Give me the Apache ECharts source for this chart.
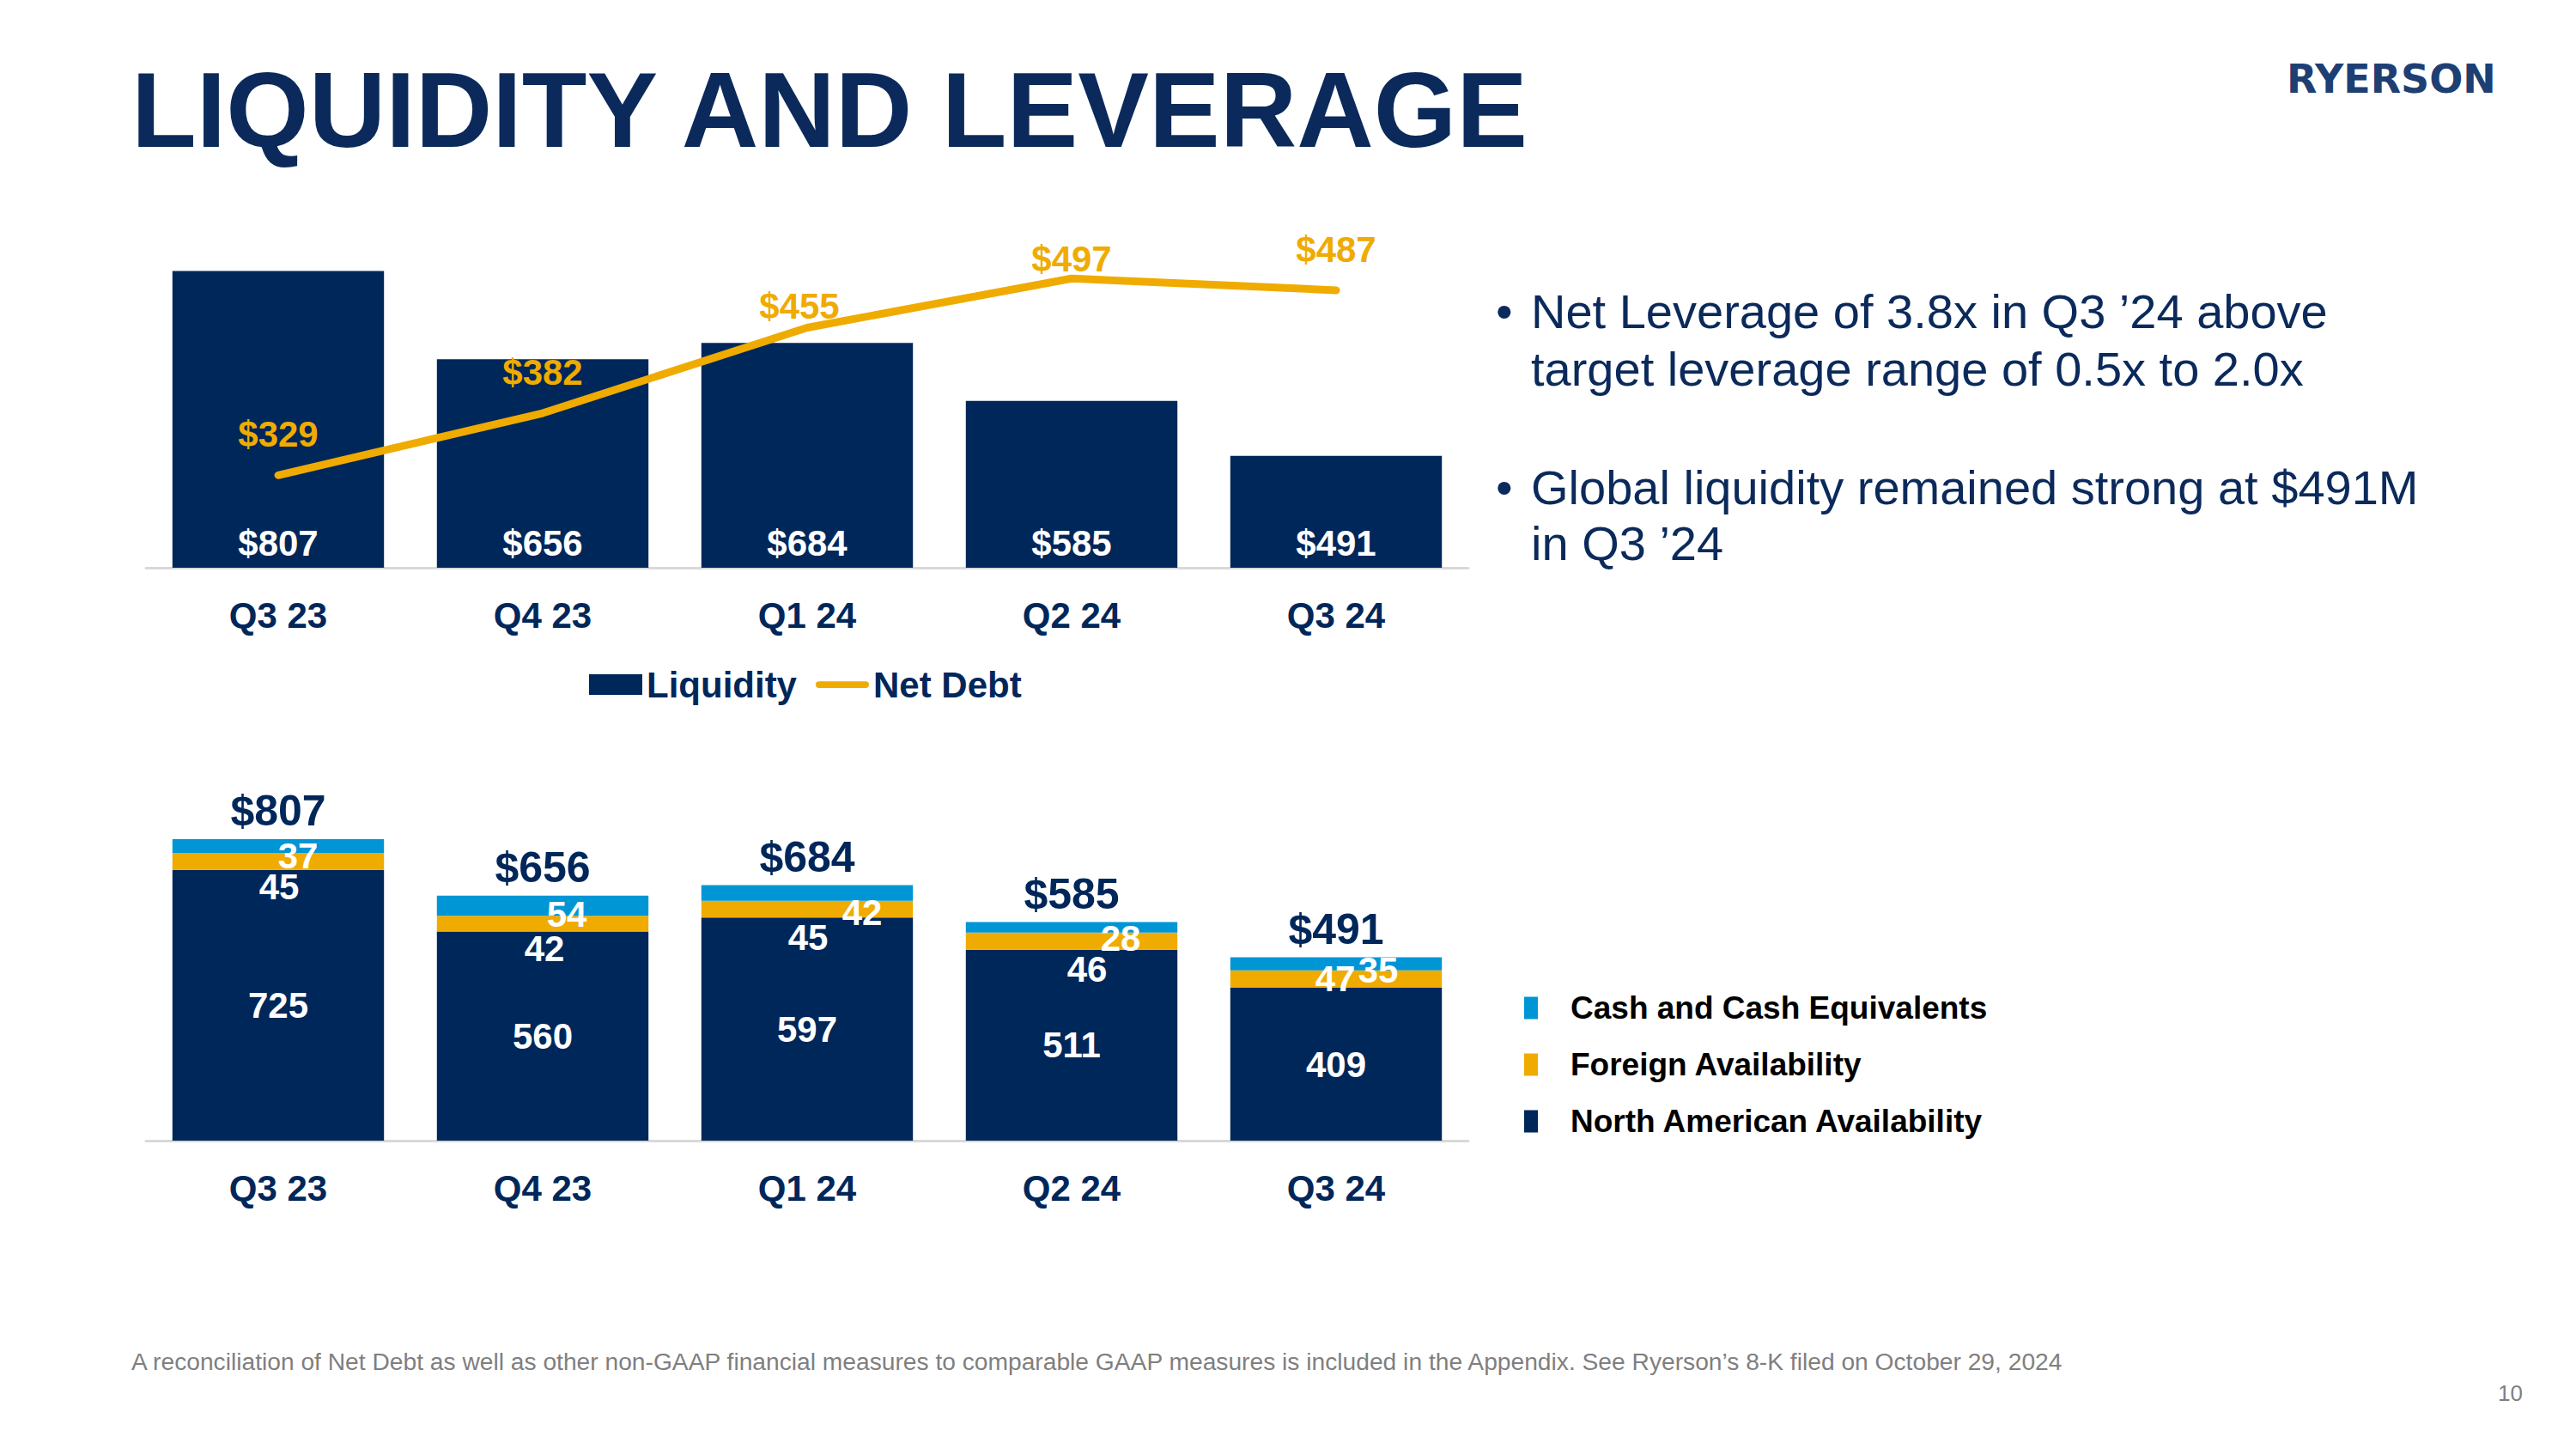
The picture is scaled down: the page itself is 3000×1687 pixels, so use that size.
<!DOCTYPE html>
<html>
<head>
<meta charset="utf-8">
<script src="https://cdn.jsdelivr.net/npm/echarts@6/dist/echarts.min.js"></script>
<style>
html,body{margin:0;padding:0;background:#fff;}
#chart{width:3000px;height:1687px;}
</style>
</head>
<body>
<div id="chart"></div>
<script>
// ---- data ----
const categories = ['Q3 23', 'Q4 23', 'Q1 24', 'Q2 24', 'Q3 24'];
const liquidity = [807, 656, 684, 585, 491];
const netDebt = [329, 382, 455, 497, 487];
const northAmerican = [725, 560, 597, 511, 409];
const foreignAvail = [45, 42, 45, 46, 47];
const cashEquiv = [37, 54, 42, 28, 35];
const legendTop = ['Liquidity', 'Net Debt'];
const legendBottom = ['Cash and Cash Equivalents', 'Foreign Availability', 'North American Availability'];

// ---- layout (label nudges as drawn in the source slide) ----
const netDebtLabelNudge = [[0, 0], [0, 0], [-9, 22], [0, 25], [0, 0]];
const foreignLabelNudge = [[1, 30], [2, 29], [1, 33], [18, 33], [-1, 0]];
const cashLabelNudge = [[23, 11], [28, 10], [64, 23], [57, 13], [49, 7]];

const NAVY = '#00275A';
const ORANGE = '#F0AB00';
const BLUE = '#0096D6';
const TITLE = '#0B2A5B';
const FONT = '"Liberation Sans", Arial, sans-serif';

const chart = echarts.init(document.getElementById('chart'), null, {renderer: 'svg'});

const withNudge = (arr, nudges) => arr.map((v, i) => ({value: v, label: {offset: nudges[i]}}));

const axisX = (gridIndex) => ({
  type: 'category', gridIndex, data: categories,
  axisTick: {show: false},
  axisLine: {lineStyle: {color: '#D9D9D9', width: 3}},
  axisLabel: {color: NAVY, fontWeight: 'bold', fontSize: 42, fontFamily: FONT, margin: 34}
});

const option = {
  backgroundColor: '#fff',
  animation: false,
  textStyle: {fontFamily: FONT},
  grid: [
    {left: 170, width: 1540, top: 252, height: 409},
    {left: 170, width: 1540, top: 936.5, height: 391.5}
  ],
  xAxis: [axisX(0), axisX(1)],
  yAxis: [
    {type: 'value', gridIndex: 0, min: 300, max: 900, show: false, splitLine: {show: false}},
    {type: 'value', gridIndex: 0, min: 250, max: 550, show: false, splitLine: {show: false}},
    {type: 'value', gridIndex: 1, min: 0, max: 900, show: false, splitLine: {show: false}}
  ],
  legend: [
    {
      data: [
        {name: legendTop[0], icon: 'rect'},
        {name: legendTop[1], icon: 'path://M4,0 H60 A4,4 0 0 1 60,8 H4 A4,4 0 0 1 4,0 Z'}
      ],
      left: 681, top: 771, itemWidth: 62, itemHeight: 24, itemGap: 22, symbolKeepAspect: true,
      textStyle: {color: NAVY, fontWeight: 'bold', fontSize: 42, fontFamily: FONT}
    },
    {
      data: legendBottom.map(n => ({name: n, icon: 'rect'})),
      orient: 'vertical', left: 1770, top: 1150, itemWidth: 16, itemHeight: 26, itemGap: 29,
      textStyle: {color: '#000', fontWeight: 'bold', fontSize: 37, fontFamily: FONT, padding: [0, 0, 0, 33]}
    }
  ],
  series: [
    {
      name: 'Liquidity', type: 'bar', xAxisIndex: 0, yAxisIndex: 0, data: liquidity,
      barCategoryGap: '20%', itemStyle: {color: NAVY},
      label: {show: true, position: 'insideBottom', distance: 8, color: '#fff', fontWeight: 'bold', fontSize: 42,
        formatter: p => '$' + p.value}
    },
    {
      name: 'Net Debt', type: 'line', xAxisIndex: 0, yAxisIndex: 1, data: netDebt,
      symbol: 'none', lineStyle: {color: ORANGE, width: 9, cap: 'round', join: 'round'}, itemStyle: {color: ORANGE},
      z: 5
    },
    {
      name: 'Net Debt labels', type: 'scatter', xAxisIndex: 0, yAxisIndex: 1, data: withNudge(netDebt, netDebtLabelNudge),
      symbolSize: 1, itemStyle: {color: 'rgba(0,0,0,0)', opacity: 1}, silent: true,
      label: {show: true, position: 'top', distance: 26, color: ORANGE, fontWeight: 'bold', fontSize: 42,
        formatter: p => '$' + p.value}, z: 6
    },
    {
      name: 'North American Availability', type: 'bar', stack: 'liq', xAxisIndex: 1, yAxisIndex: 2, data: northAmerican,
      barCategoryGap: '20%', itemStyle: {color: NAVY},
      label: {show: true, position: 'inside', color: '#fff', fontWeight: 'bold', fontSize: 42}
    },
    {
      name: 'Foreign Availability', type: 'bar', stack: 'liq', xAxisIndex: 1, yAxisIndex: 2, data: withNudge(foreignAvail, foreignLabelNudge),
      itemStyle: {color: ORANGE},
      label: {show: true, position: 'inside', color: '#fff', fontWeight: 'bold', fontSize: 42}
    },
    {
      name: 'Cash and Cash Equivalents', type: 'bar', stack: 'liq', xAxisIndex: 1, yAxisIndex: 2, data: withNudge(cashEquiv, cashLabelNudge),
      itemStyle: {color: BLUE},
      label: {show: true, position: 'inside', color: '#fff', fontWeight: 'bold', fontSize: 42}
    },
    {
      name: 'Total', type: 'scatter', xAxisIndex: 1, yAxisIndex: 2, data: liquidity,
      symbolSize: 1, itemStyle: {color: 'rgba(0,0,0,0)', opacity: 1}, silent: true,
      label: {show: true, position: 'top', distance: 7, color: NAVY, fontWeight: 'bold', fontSize: 50,
        formatter: p => '$' + p.value}, z: 10
    }
  ],
  graphic: [
    {type: 'text', left: 153, top: 66, style: {text: 'LIQUIDITY AND LEVERAGE', fill: TITLE, font: 'bold 124px ' + FONT}},
    {type: 'text', left: 2663, top: 69, style: {text: 'RYERSON', fill: '#1E3F73', font: 'bold 46px "DejaVu Sans", sans-serif'}},
    {type: 'text', left: 1742, top: 334, style: {text: '•', fill: TITLE, font: '56px ' + FONT}},
    {type: 'text', left: 1783, top: 334, style: {text: 'Net Leverage of 3.8x in Q3 ’24 above', fill: TITLE, font: '56px ' + FONT}},
    {type: 'text', left: 1783, top: 401, style: {text: 'target leverage range of 0.5x to 2.0x', fill: TITLE, font: '56px ' + FONT}},
    {type: 'text', left: 1742, top: 539, style: {text: '•', fill: TITLE, font: '56px ' + FONT}},
    {type: 'text', left: 1783, top: 539, style: {text: 'Global liquidity remained strong at $491M', fill: TITLE, font: '56px ' + FONT}},
    {type: 'text', left: 1783, top: 604, style: {text: 'in Q3 ’24', fill: TITLE, font: '56px ' + FONT}},
    {type: 'text', left: 153, top: 1571, style: {text: 'A reconciliation of Net Debt as well as other non-GAAP financial measures to comparable GAAP measures is included in the Appendix. See Ryerson’s 8-K filed on October 29, 2024', fill: '#7F7F7F', font: '28.2px ' + FONT}},
    {type: 'text', left: 2909, top: 1609, style: {text: '10', fill: '#7F7F7F', font: '26px ' + FONT}}
  ]
};
chart.setOption(option);
</script>
</body>
</html>
